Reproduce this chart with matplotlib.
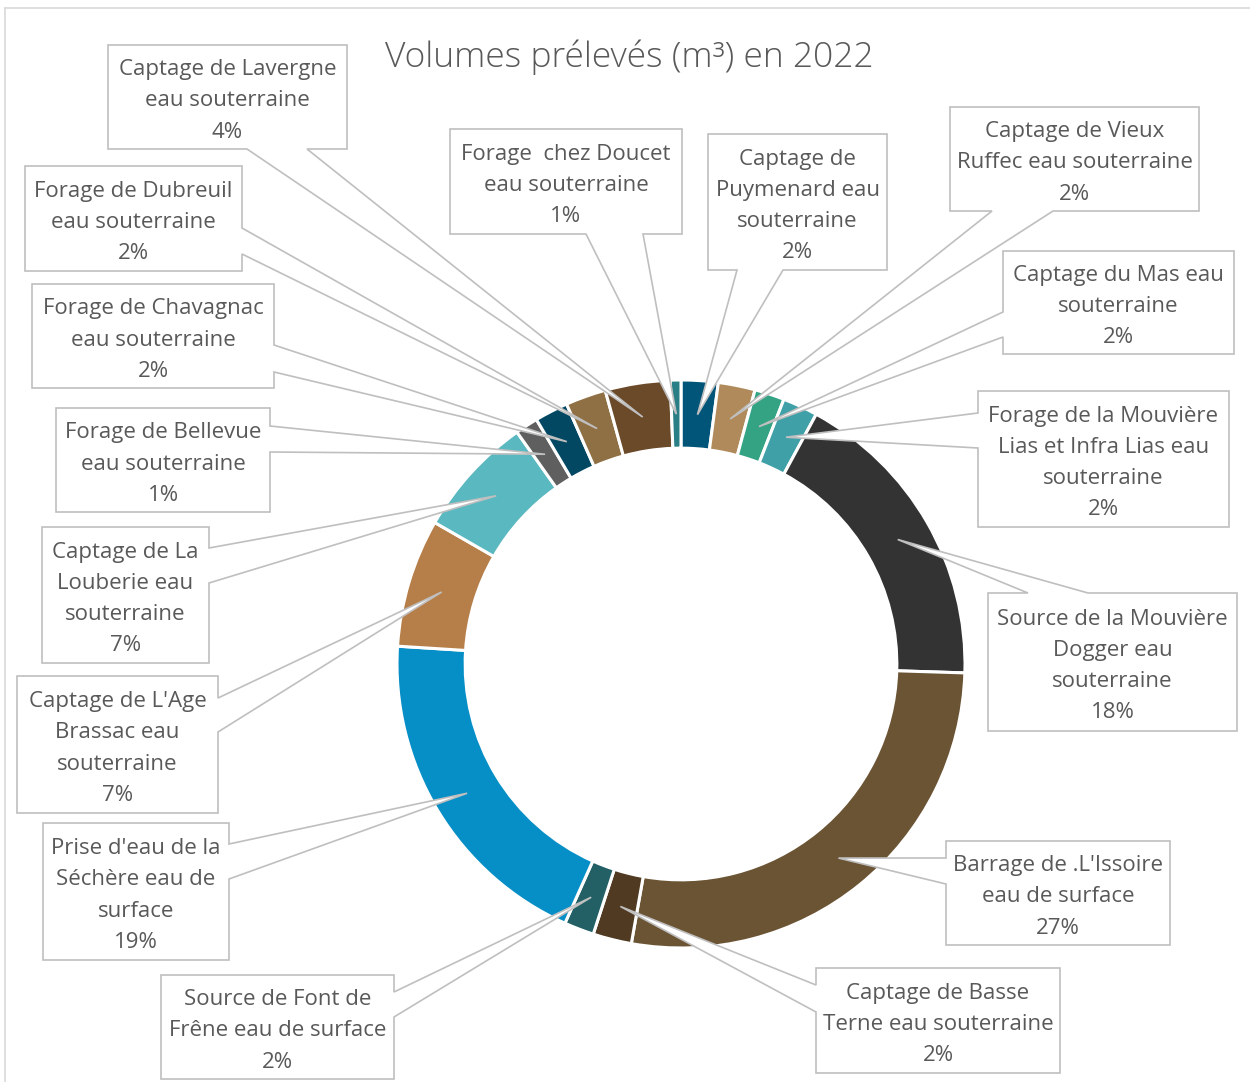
import numpy as np
import matplotlib
matplotlib.use("Agg")
from matplotlib import pyplot as plt
from matplotlib.patches import Polygon

plt.rcParams['font.family'] = ['Open Sans', 'DejaVu Sans']

# DATA (clockwise from 12 o'clock)
sources = ["Captage de\nPuymenard eau\nsouterraine",
           "Captage de Vieux\nRuffec eau souterraine",
           "Captage du Mas eau\nsouterraine",
           "Forage de la Mouvière\nLias et Infra Lias eau\nsouterraine",
           "Source de la Mouvière\nDogger eau\nsouterraine",
           "Barrage de .L'Issoire\neau de surface",
           "Captage de Basse\nTerne eau souterraine",
           "Source de Font de\nFrêne eau de surface",
           "Prise d'eau de la\nSéchère eau de\nsurface",
           "Captage de L'Age\nBrassac eau\nsouterraine",
           "Captage de La\nLouberie eau\nsouterraine",
           "Forage de Bellevue\neau souterraine",
           "Forage de Chavagnac\neau souterraine",
           "Forage de Dubreuil\neau souterraine",
           "Captage de Lavergne\neau souterraine",
           "Forage  chez Doucet\neau souterraine"]
shares = [2.1, 2.1, 1.7, 2.0, 17.6, 27.3, 2.2, 1.7, 19.3, 7.3, 6.9, 1.3, 1.9, 2.3, 3.7, 0.6]
colors = ['#005578', '#b08a5a', '#34a384', '#40a0a8', '#333333', '#6b5434',
          '#513a22', '#226066', '#068ec6', '#b67e48', '#5ab8c0', '#5f5f5f',
          '#034862', '#8f7044', '#6b4a2a', '#2a7f86']

# label boxes in pixel coords: (x0, y0, x1, y1), side of spike, spike base (a, b)
boxes = [
    ((708, 134, 887, 270), 'bottom', (737, 783)),
    ((950, 107, 1199, 211), 'bottom', (992, 1053)),
    ((1003, 251, 1234, 354), 'left', (312, 337)),
    ((978, 391, 1229, 527), 'left', (413, 448)),
    ((988, 593, 1237, 731), 'top', (1028, 1088)),
    ((946, 841, 1170, 945), 'left', (858, 884)),
    ((816, 968, 1060, 1073), 'left', (985, 1012)),
    ((161, 975, 394, 1079), 'right', (992, 1017)),
    ((43, 823, 229, 960), 'right', (844, 879)),
    ((17, 676, 218, 813), 'right', (698, 732)),
    ((42, 527, 209, 663), 'right', (548, 583)),
    ((56, 408, 270, 512), 'right', (426, 452)),
    ((32, 284, 274, 388), 'right', (345, 372)),
    ((25, 166, 242, 271), 'right', (228, 254)),
    ((108, 45, 347, 149), 'bottom', (247, 307)),
    ((450, 129, 682, 234), 'bottom', (586, 643)),
]

W, H = 1250, 1082
cx, cy, R = 681, 664, 284
text_color = '#595959'

fig = plt.figure(figsize=(12.5, 10.82), dpi=100)
ax = fig.add_axes([0, 0, 1, 1])

wedges, _ = ax.pie(shares, colors=colors, startangle=90, counterclock=False,
                   center=(cx, H - cy), radius=R, frame=True,
                   wedgeprops=dict(width=0.24 * R, edgecolor='white', linewidth=2.2))

total = sum(shares)
for w, name, val, (box, side, base) in zip(wedges, sources, shares, boxes):
    mid = np.deg2rad((w.theta1 + w.theta2) / 2)
    tip = (cx + 0.88 * R * np.cos(mid), cy - 0.88 * R * np.sin(mid))
    x0, y0, x1, y1 = box
    a, b = base
    if side == 'top':
        pts = [(x0, y0), (a, y0), tip, (b, y0), (x1, y0), (x1, y1), (x0, y1)]
    elif side == 'right':
        pts = [(x0, y0), (x1, y0), (x1, a), tip, (x1, b), (x1, y1), (x0, y1)]
    elif side == 'bottom':
        pts = [(x0, y0), (x1, y0), (x1, y1), (b, y1), tip, (a, y1), (x0, y1)]
    else:
        pts = [(x0, y0), (x1, y0), (x1, y1), (x0, y1), (x0, b), tip, (x0, a)]
    pts = [(px, H - py) for px, py in pts]
    ax.add_patch(Polygon(pts, closed=True, facecolor='white', edgecolor='#bfbfbf',
                         linewidth=1.2, zorder=5))
    pct = round(val / total * 100)
    ax.text((x0 + x1) / 2, H - (y0 + y1) / 2 - 4, f"{name}\n{pct}%", ha='center', va='center',
            fontsize=16, color=text_color, linespacing=1.64, zorder=6)

ax.text(629, H - 57, "Volumes prélevés (m³) en 2022", ha='center', va='center',
        fontsize=25.5, color=text_color, fontweight='light')

# chart area border (top and left visible)
ax.plot([5, 5], [0, H - 8], color='#d9d9d9', lw=1.2)
ax.plot([5, W], [H - 8, H - 8], color='#d9d9d9', lw=1.2)

ax.set_xlim(0, W)
ax.set_ylim(0, H)
ax.set_aspect('equal')
ax.axis('off')

fig.savefig('out.png', dpi=100)
